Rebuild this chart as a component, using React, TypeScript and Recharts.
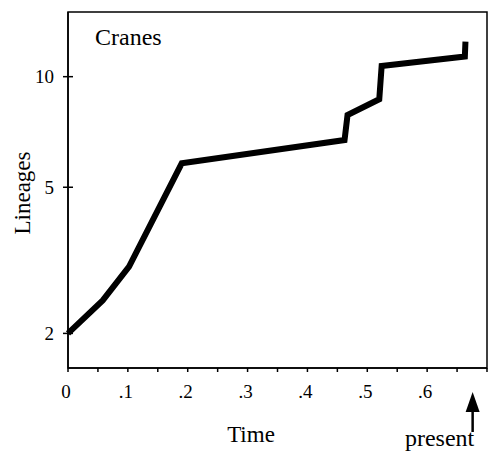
import {
  LineChart,
  Line,
  XAxis,
  YAxis,
  ReferenceArea,
} from "recharts";

// lineages-through-time
const times = [0, 0.058, 0.102, 0.19, 0.462, 0.467, 0.52, 0.524, 0.663, 0.664];
const lineages = [2, 2.46, 3.04, 5.81, 6.72, 7.86, 8.68, 10.69, 11.35, 12.46];

const yTicks = [2, 5, 10];
const xTicks = [
  0, 0.05, 0.1, 0.15, 0.2, 0.25, 0.3, 0.35, 0.4, 0.45, 0.5, 0.55, 0.6, 0.65,
  0.676, 0.7,
];
const xLabels: Record<string, string> = {
  "0": "0",
  "0.1": ".1",
  "0.2": ".2",
  "0.3": ".3",
  "0.4": ".4",
  "0.5": ".5",
  "0.6": ".6",
};
const presentAt = 0.676;

const FONT = "'Liberation Serif', 'DejaVu Serif', serif";
const INK = "#000";

const data = times.map((t, i) => ({ t, n: lineages[i] }));

function XTick(props: any) {
  const { x, y, payload } = props;
  const v = payload.value as number;
  if (v === presentAt) {
    return (
      <g>
        <polygon
          points={`${x},${y + 24} ${x - 7},${y + 44} ${x + 7},${y + 44}`}
          fill={INK}
        />
        <line x1={x} x2={x} y1={y + 42} y2={y + 64} stroke={INK} strokeWidth={2.5} />
        <text
          x={x - 33}
          y={y + 78}
          textAnchor="middle"
          fontFamily={FONT}
          fontSize={24}
          fill={INK}
        >
          present
        </text>
      </g>
    );
  }
  const label = xLabels[String(v)];
  return (
    <g>
      <line x1={x} x2={x} y1={y} y2={y + 4} stroke={INK} strokeWidth={1.5} />
      {label && (
        <text
          x={x - 2}
          y={y + 30}
          textAnchor="middle"
          fontFamily={FONT}
          fontSize={19}
          fill={INK}
        >
          {label}
        </text>
      )}
    </g>
  );
}

function YTick(props: any) {
  const { x, y, payload } = props;
  return (
    <g>
      <line x1={x - 5} x2={x + 5} y1={y} y2={y} stroke={INK} strokeWidth={1.5} />
      <text
        x={x - 14}
        y={y}
        dy="0.35em"
        textAnchor="end"
        fontFamily={FONT}
        fontSize={19}
        fill={INK}
      >
        {payload.value}
      </text>
    </g>
  );
}

export default function App() {
  return (
    <div style={{ position: "absolute", left: 0, top: 0, width: 491, height: 452, background: "#fff" }}>
      <LineChart
        width={491}
        height={452}
        data={data}
        margin={{ top: 12, right: 4, bottom: 0, left: 0 }}
      >
        <XAxis
          dataKey="t"
          type="number"
          domain={[0, 0.7]}
          ticks={xTicks}
          interval={0}
          tickSize={0}
          tickMargin={0}
          tick={<XTick />}
          height={84}
          stroke={INK}
          strokeWidth={1.5}
          label={{
            content: (p: any) => (
              <text
                x={p.viewBox.x + 183}
                y={p.viewBox.y + 74}
                textAnchor="middle"
                fontFamily={FONT}
                fontSize={23}
                fill={INK}
              >
                Time
              </text>
            ),
          }}
        />
        <YAxis
          dataKey="n"
          scale="log"
          domain={[1.61, 15]}
          allowDataOverflow
          ticks={yTicks}
          interval={0}
          tickSize={0}
          tickMargin={0}
          tick={<YTick />}
          width={68}
          stroke={INK}
          strokeWidth={1.5}
          label={{
            content: () => (
              <text
                x={22}
                y={193}
                transform="rotate(-90, 22, 193)"
                textAnchor="middle"
                dominantBaseline="central"
                fontFamily={FONT}
                fontSize={23}
                fill={INK}
              >
                Lineages
              </text>
            ),
          }}
        />
        <ReferenceArea
          x1={0}
          x2={0.7}
          y1={1.61}
          y2={15}
          ifOverflow="visible"
          fill="none"
          fillOpacity={0}
          stroke={INK}
          strokeWidth={1.5}
          label={{
            content: (p: any) => (
              <text
                x={p.viewBox.x + 27}
                y={p.viewBox.y + 33}
                fontFamily={FONT}
                fontSize={24}
                fill={INK}
              >
                Cranes
              </text>
            ),
          }}
        />
        <Line
          type="linear"
          dataKey="n"
          stroke={INK}
          strokeWidth={6}
          dot={false}
          isAnimationActive={false}
        />
      </LineChart>
    </div>
  );
}
